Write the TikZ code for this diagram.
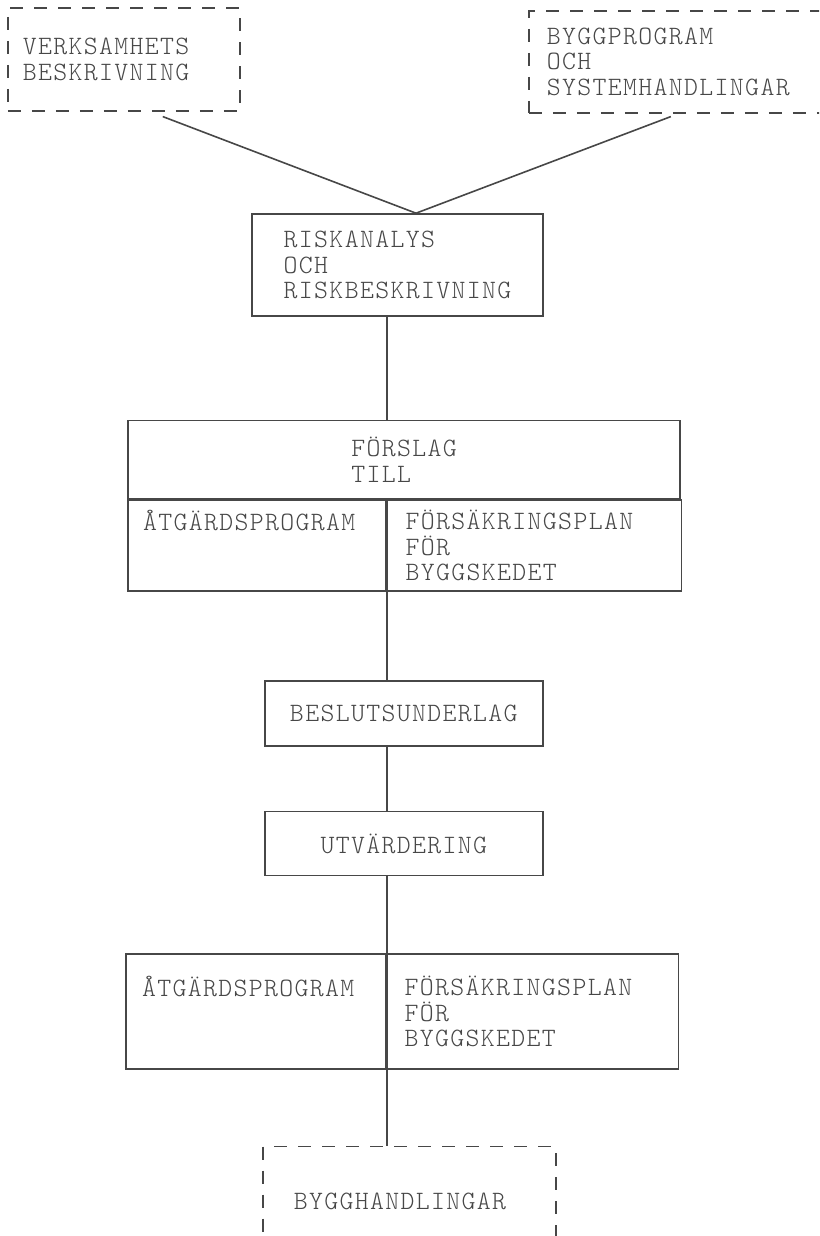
\documentclass[tikz,border=0pt]{standalone}
\usepackage{fontspec}
\newfontfamily\typew{lmmonolt10-regular.otf}[LetterSpace=5.1]
\usetikzlibrary{positioning}

\begin{document}
\begin{tikzpicture}[x=1pt, y=-1pt, line width=1.6pt, color=black!72,
  every node/.style={align=left, inner sep=0pt, font=\typew\fontsize{26.5pt}{25.5pt}\selectfont},
  box/.style={draw},
  dbox/.style={draw, dash pattern=on 13pt off 11pt}]
\useasboundingbox (0,0) rectangle (819,1236);
\clip (0,0) rectangle (819,1236);

\node (VB) [dbox, anchor=north west, text width=202pt, inner xsep=15pt, minimum height=103pt] at (7,7) {VERKSAMHETS\\BESKRIVNING};
\node (BP) [dbox, anchor=north west, text width=264pt, inner xsep=18pt, minimum height=102pt] at (528,10) {BYGGPROGRAM\\OCH\\SYSTEMHANDLINGAR};
\node (RA) [box, minimum width=291pt, minimum height=102pt] at (397.5,265) {RISKANALYS\\OCH\\RISKBESKRIVNING};
\node (F) [box, below=103pt of RA, xshift=6.5pt, minimum width=552pt, minimum height=78pt] {FÖRSLAG\\TILL};
\node (FA) [box, below right=0pt of F.south west, text width=228pt, inner xsep=15pt, minimum height=91pt] {ÅTGÄRDSPROGRAM\\~\\~};
\node (FP) [box, below right=0pt of FA.north east, text width=258pt, inner xsep=18pt, minimum height=91pt] {FÖRSÄKRINGSPLAN\\FÖR\\BYGGSKEDET};
\node (BU) [box, below=88pt of FA.south east, xshift=17pt, minimum width=278pt, minimum height=65pt] {BESLUTSUNDERLAG};
\node (UT) [box, below=64pt of BU, minimum width=278pt, minimum height=64pt] {UTVÄRDERING};
\node (A) [box, below left=77pt and 0pt of UT.south, xshift=-17pt, text width=228pt, inner xsep=16pt, minimum height=115pt] {ÅTGÄRDSPROGRAM\\~\\~};
\node (P) [box, below right=0pt of A.north east, text width=257pt, inner xsep=17pt, minimum height=115pt] {FÖRSÄKRINGSPLAN\\FÖR\\BYGGSKEDET};
\node (BH) [dbox, below=76pt of A.south east, xshift=22.5pt, text width=231pt, inner xsep=31pt, minimum height=110pt] {BYGGHANDLINGAR};

\coordinate (J) at ([xshift=18.5pt]RA.north);
\draw ([xshift=39pt,yshift=-5pt]VB.south) -- (J);
\draw ([xshift=-8pt,yshift=-3pt]BP.south) -- (J);
\draw (RA.south -| FA.east) -- (F.north -| FA.east);
\draw (FA.south east) -- (BU.north -| FA.east);
\draw (BU.south -| FA.east) -- (UT.north -| FA.east);
\draw (UT.south -| FA.east) -- (A.north east);
\draw (A.south east) -- (BH.north -| A.east);
\end{tikzpicture}
\end{document}
